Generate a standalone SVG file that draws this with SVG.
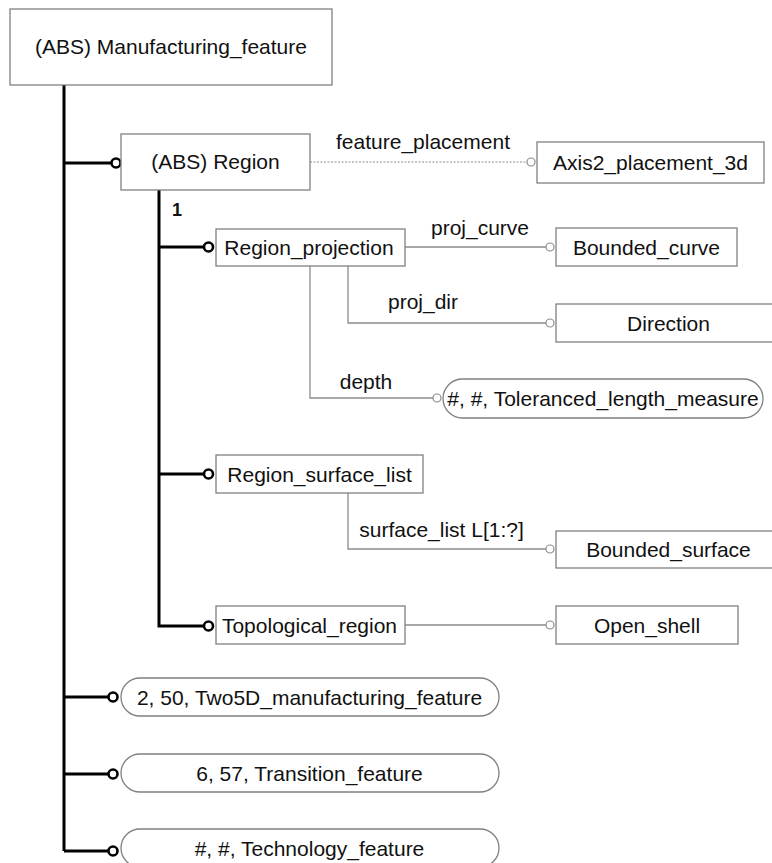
<svg xmlns="http://www.w3.org/2000/svg" width="772" height="863" viewBox="0 0 772 863">
<style>
.box{fill:#fff;stroke:#808080;stroke-width:1.3}
.t{font-family:"Liberation Sans",Arial,sans-serif;font-size:21px;fill:#111;text-anchor:middle}
.lbl{font-family:"Liberation Sans",Arial,sans-serif;font-size:21px;fill:#111;text-anchor:middle}
.thick{fill:none;stroke:#000;stroke-width:3}
.thin{fill:none;stroke:#8c8c8c;stroke-width:1.3}
.dash{fill:none;stroke:#8c8c8c;stroke-width:1;stroke-dasharray:2,1.5}
.bc{fill:#fff;stroke:#000;stroke-width:2.6}
.gc{fill:#fff;stroke:#8c8c8c;stroke-width:1.2}
</style>
<rect width="772" height="863" fill="#fff"/>
<g id="connectors">
  <path class="thick" d="M64,85 V851 M64,163 H112 M64,697 H109 M64,774 H109 M64,851 H109"/>
  <path class="thick" d="M159,190 V626 H204 M159,247 H204 M159,474 H204"/>
  <circle class="bc" cx="116" cy="163" r="4.5"/>
  <circle class="bc" cx="113" cy="697" r="4.5"/>
  <circle class="bc" cx="113" cy="774" r="4.5"/>
  <circle class="bc" cx="113" cy="851" r="4.5"/>
  <circle class="bc" cx="208.5" cy="247" r="4.5"/>
  <circle class="bc" cx="208.5" cy="474" r="4.5"/>
  <circle class="bc" cx="208.5" cy="626" r="4.5"/>
  <text x="177" y="216" style="font-family:'Liberation Sans',Arial,sans-serif;font-size:18px;font-weight:bold;fill:#111" text-anchor="middle">1</text>
  <path class="dash" d="M310,162 H527"/>
  <circle class="gc" cx="531" cy="162" r="4"/>
  <text class="lbl" x="423" y="149">feature_placement</text>
  <path class="thin" d="M405,247 H546"/>
  <circle class="gc" cx="550" cy="247" r="4"/>
  <text class="lbl" x="480" y="235">proj_curve</text>
  <path class="thin" d="M348,266 V323 H546"/>
  <circle class="gc" cx="550" cy="323" r="4"/>
  <text class="lbl" x="423" y="309">proj_dir</text>
  <path class="thin" d="M310,266 V398 H433"/>
  <circle class="gc" cx="437" cy="398" r="4"/>
  <text class="lbl" x="366" y="389">depth</text>
  <path class="thin" d="M348,493 V549 H546"/>
  <circle class="gc" cx="550" cy="549" r="4"/>
  <text class="lbl" x="441.5" y="537">surface_list L[1:?]</text>
  <path class="thin" d="M405,625 H546"/>
  <circle class="gc" cx="550" cy="625" r="4"/>
</g>
<g id="manufacturing_feature">
  <rect class="box" x="10" y="9" width="322" height="76"/>
  <text class="t" x="171" y="54">(ABS) Manufacturing_feature</text>
</g>
<g id="region">
  <rect class="box" x="121" y="134" width="189" height="56"/>
  <text class="t" x="215.5" y="169">(ABS) Region</text>
</g>
<g id="axis2_placement_3d">
  <rect class="box" x="537" y="142" width="227" height="41"/>
  <text class="t" x="650.5" y="169.5">Axis2_placement_3d</text>
</g>
<g id="region_projection">
  <rect class="box" x="216" y="229" width="189" height="37"/>
  <text class="t" x="309" y="254.5">Region_projection</text>
</g>
<g id="bounded_curve">
  <rect class="box" x="556" y="228" width="181" height="38"/>
  <text class="t" x="646.5" y="254.5">Bounded_curve</text>
</g>
<g id="direction">
  <rect class="box" x="556" y="304" width="225" height="38"/>
  <text class="t" x="668.5" y="330.5">Direction</text>
</g>
<g id="toleranced_length_measure">
  <rect class="box" x="443" y="379" width="320" height="39" rx="19.5"/>
  <text class="t" x="603" y="406">#, #, Toleranced_length_measure</text>
</g>
<g id="region_surface_list">
  <rect class="box" x="216" y="455" width="207" height="38"/>
  <text class="t" x="319.5" y="481.5">Region_surface_list</text>
</g>
<g id="bounded_surface">
  <rect class="box" x="556" y="531" width="225" height="37"/>
  <text class="t" x="668.5" y="557">Bounded_surface</text>
</g>
<g id="topological_region">
  <rect class="box" x="216" y="606" width="189" height="38"/>
  <text class="t" x="309.5" y="632.5">Topological_region</text>
</g>
<g id="open_shell">
  <rect class="box" x="556" y="606" width="182" height="38"/>
  <text class="t" x="647" y="632.5">Open_shell</text>
</g>
<g id="two5d_manufacturing_feature">
  <rect class="box" x="121" y="678" width="378" height="38" rx="19"/>
  <text class="t" x="309.5" y="704.5">2, 50, Two5D_manufacturing_feature</text>
</g>
<g id="transition_feature">
  <rect class="box" x="121" y="754" width="378" height="38" rx="19"/>
  <text class="t" x="309.5" y="780.5">6, 57, Transition_feature</text>
</g>
<g id="technology_feature">
  <rect class="box" x="121" y="829" width="378" height="38" rx="19"/>
  <text class="t" x="309.5" y="856">#, #, Technology_feature</text>
</g>
</svg>
